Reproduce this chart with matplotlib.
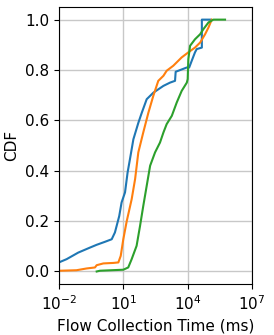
import numpy as np
from matplotlib import pyplot as plt
from matplotlib.ticker import NullLocator

plt.rcParams['font.size'] = 11

# log10 of flow collection time (ms) and CDF values
blue_exp = [-2.3, -2.0, -1.64, -1.10, -0.55, -0.24, 0.15, 0.46, 0.61, 0.81, 0.92,
            1.08, 1.20, 1.31, 1.47, 1.70, 1.86, 2.09, 2.40, 2.87, 3.18, 3.41,
            3.44, 3.96, 4.07, 4.19, 4.34, 4.42, 4.66, 4.66, 5.05]
blue_cdf = [0.025, 0.036, 0.049, 0.075, 0.095, 0.106, 0.118, 0.128, 0.155, 0.22, 0.274,
            0.314, 0.393, 0.446, 0.525, 0.59, 0.63, 0.684, 0.71, 0.737, 0.75, 0.757,
            0.793, 0.81, 0.81, 0.837, 0.87, 0.883, 0.889, 1.0, 1.0]

orange_exp = [-2.3, -1.18, -0.71, -0.32, -0.24, 0.07, 0.54, 0.77, 0.88, 1.0, 1.16,
              1.39, 1.55, 1.70, 1.93, 2.17, 2.40, 2.63, 2.87, 3.02, 3.33, 3.72,
              4.03, 4.34, 4.58, 4.81, 4.97, 5.12]
orange_cdf = [0.002, 0.005, 0.012, 0.016, 0.025, 0.032, 0.034, 0.036, 0.062, 0.128, 0.2,
              0.287, 0.367, 0.473, 0.552, 0.631, 0.698, 0.757, 0.777, 0.797, 0.817, 0.85,
              0.87, 0.889, 0.909, 0.942, 0.969, 1.0]

green_exp = [-0.24, -0.09, 1.0, 1.23, 1.39, 1.62, 1.78, 1.93, 2.09, 2.25, 2.48,
             2.71, 2.87, 3.02, 3.26, 3.49, 3.72, 3.96, 4.0, 4.03, 4.11, 4.34,
             4.58, 4.73, 4.97, 5.20, 5.74]
green_cdf = [0.0, 0.003, 0.007, 0.016, 0.049, 0.102, 0.181, 0.26, 0.34, 0.42, 0.473,
             0.512, 0.552, 0.585, 0.618, 0.671, 0.717, 0.75, 0.764, 0.843, 0.896, 0.922,
             0.942, 0.962, 0.989, 1.0, 1.0]

fig = plt.figure(figsize=(2.74, 3.35), dpi=100)
ax = fig.add_axes([0.215, 0.152, 0.705, 0.827])

for exps, cdf in [(blue_exp, blue_cdf), (orange_exp, orange_cdf), (green_exp, green_cdf)]:
    ax.plot(10.0 ** np.array(exps), cdf, lw=1.5)

ax.set_xscale('log')
ax.set_xlim(1e-2, 1e7)
ax.set_ylim(-0.05, 1.05)
ax.set_xticks([1e-2, 1e1, 1e4, 1e7])
ax.xaxis.set_minor_locator(NullLocator())
ax.set_yticks([0.0, 0.2, 0.4, 0.6, 0.8, 1.0])
ax.grid(True, lw=1.0, color='#c8c8c8')
ax.set_xlabel('Flow Collection Time (ms)')
ax.set_ylabel('CDF')

fig.savefig('out.png', dpi=100)
